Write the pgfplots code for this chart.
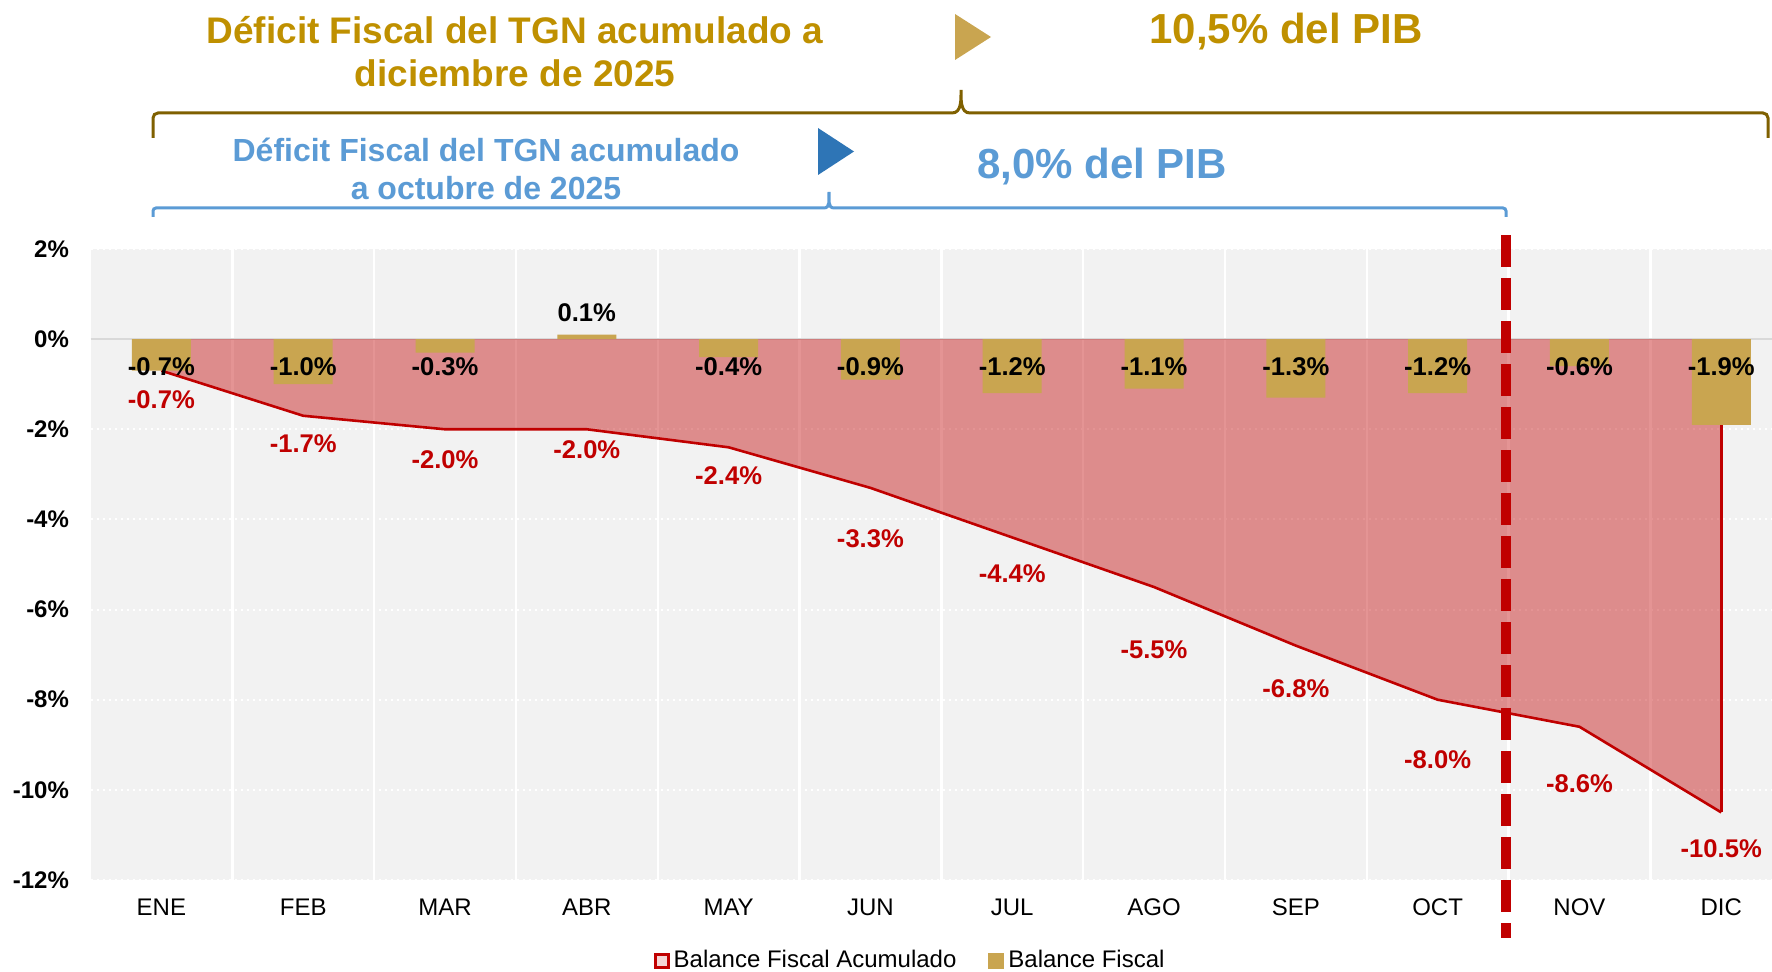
\documentclass[border=0pt]{standalone}
\usepackage{fontspec}
\setmainfont{Liberation Sans}
\usepackage{pgfplots}
\pgfplotsset{compat=1.18}
\usepackage{pgfplotstable}
\definecolor{cred}{HTML}{C00000}
\definecolor{cgoldbar}{HTML}{C9A550}
\definecolor{cgoldtxt}{HTML}{BF9000}
\definecolor{cgoldbr}{HTML}{7F6000}
\definecolor{cblue}{HTML}{5B9BD5}
\definecolor{cbluetri}{HTML}{2E75B6}
\definecolor{cbg}{HTML}{F2F2F2}
\definecolor{cpink}{HTML}{E59A9A}

\pgfplotstableread{
x  bf   acum  bly    laby
0  -0.7 -0.7  -0.621 -1.35
1  -1.0 -1.7  -0.621 -2.33
2  -0.3 -2.0  -0.621 -2.68
3   0.1 -2.0   0.577 -2.46
4  -0.4 -2.4  -0.621 -3.02
5  -0.9 -3.3  -0.621 -4.43
6  -1.2 -4.4  -0.621 -5.21
7  -1.1 -5.5  -0.621 -6.90
8  -1.3 -6.8  -0.621 -7.76
9  -1.2 -8.0  -0.621 -9.33
10 -0.6 -8.6  -0.621 -9.87
11 -1.9 -10.5 -0.621 -11.31
}\data

\begin{document}
\begin{tikzpicture}
\useasboundingbox (0,0) rectangle (886pt,-486pt);
\begin{axis}[
  scale only axis, width=840.75pt, height=315.5pt,
  at={(45.25pt,-440pt)}, anchor=south west,
  xmin=-0.5, xmax=11.358, ymin=-12, ymax=2,
  clip=false,
  axis background/.style={fill=cbg},
  axis line style={draw=none},
  major tick length=0pt, minor tick length=0pt,
  xtick={0,...,11},
  xticklabels={ENE,FEB,MAR,ABR,MAY,JUN,JUL,AGO,SEP,OCT,NOV,DIC},
  minor xtick={0.5,1.5,...,10.5},
  xminorgrids, minor x grid style={white, line width=1.2pt},
  ytick={-12,-10,...,2},
  yticklabels={-12\%,-10\%,-8\%,-6\%,-4\%,-2\%,0\%,2\%},
  ymajorgrids, major y grid style={white, line width=1pt, dotted},
  x tick label style={font=\fontsize{12}{14}\selectfont},
  y tick label style={font=\fontsize{12}{14}\selectfont\bfseries},
  xticklabel shift=6pt, yticklabel shift=7.25pt,
  legend style={draw=none, fill=none, font=\fontsize{12}{14}\selectfont,
    legend columns=-1, at={(0.488,-0.127)}, anchor=center,
    /tikz/every even column/.append style={column sep=14pt}},
]
\draw[color=black!15, line width=1pt] (axis cs:-0.5,0) -- (axis cs:11.358,0);
% accumulated area
\addplot[draw=none, fill=cred, fill opacity=0.42,
  legend image code/.code={\draw[draw=cred, line width=1.5pt, fill=cpink] (0.75pt,-3.5pt) rectangle (7.25pt,3pt);}]
  table[x=x, y=acum] {\data} \closedcycle;
\addlegendentry{Balance Fiscal Acumulado}
\addplot[cred, line width=1.3pt, mark=none, forget plot] table[x=x, y=acum] {\data};
\addplot[cred, line width=1.3pt, mark=none, forget plot] coordinates {(11,-10.5) (11,0)};
% bars
\addplot[ybar, bar width=29.5pt, bar shift=0pt, fill=cgoldbar, draw=none,
  legend image code/.code={\fill[cgoldbar] (0pt,-4.25pt) rectangle (8pt,3.75pt);}]
  table[x=x, y=bf] {\data};
\addlegendentry{Balance Fiscal}
% dashed separator
\addplot[cred, line width=5pt, dash pattern=on 16pt off 5.5pt, forget plot] coordinates {(9.48,2.307) (9.48,-13.29)};
% bar labels
\addplot[draw=none, mark=none, forget plot, point meta=explicit,
  nodes near coords={\pgfmathprintnumber[fixed,fixed zerofill,precision=1,assume math mode=true]{\pgfplotspointmeta}\%},
  every node near coord/.append style={anchor=center, inner sep=0pt, text=black, font=\fontsize{12.8}{14}\selectfont\bfseries}]
  table[x=x, y=bly, meta=bf] {\data};
% accumulated labels
\addplot[draw=none, mark=none, forget plot, point meta=explicit,
  nodes near coords={\pgfmathprintnumber[fixed,fixed zerofill,precision=1,assume math mode=true]{\pgfplotspointmeta}\%},
  every node near coord/.append style={anchor=center, inner sep=0pt, text=cred, font=\fontsize{12.8}{14}\selectfont\bfseries}]
  table[x=x, y=laby, meta=acum] {\data};
\end{axis}
% annotations
\draw[cgoldbr, line width=1.5pt] (76.5pt,-69pt) -- (76.5pt,-59pt) to[out=90,in=180] (79pt,-56.5pt) -- (476pt,-56.5pt) to[out=0,in=-90] (480.5pt,-45pt) to[out=-90,in=180] (485pt,-56.5pt) -- (881.5pt,-56.5pt) to[out=0,in=90] (884pt,-59pt) -- (884pt,-69pt);
\draw[cblue, line width=1.5pt] (76.5pt,-108.5pt) -- (76.5pt,-105.5pt) to[out=90,in=180] (78pt,-104pt) -- (412pt,-104pt) to[out=0,in=-90] (414.5pt,-96pt) to[out=-90,in=180] (417pt,-104pt) -- (751.5pt,-104pt) to[out=0,in=90] (753pt,-105.5pt) -- (753pt,-108.5pt);
\fill[cgoldbar] (477.5pt,-7pt) -- (477.5pt,-30pt) -- (495.5pt,-18.5pt) -- cycle;
\fill[cbluetri] (409pt,-64pt) -- (409pt,-87.5pt) -- (427pt,-75.75pt) -- cycle;
\node[align=center, text=cgoldtxt, font=\fontsize{18.5}{21.5}\selectfont\bfseries, inner sep=0pt] at (257.5pt,-25.75pt) {Déficit Fiscal del TGN acumulado a\\diciembre de 2025};
\node[align=center, text=cblue, font=\fontsize{16}{19}\selectfont\bfseries, inner sep=0pt] at (243pt,-84.5pt) {Déficit Fiscal del TGN acumulado\\a octubre de 2025};
\node[text=cgoldtxt, font=\fontsize{21}{24}\selectfont\bfseries, inner sep=0pt] at (643pt,-16pt) {10,5\% del PIB};
\node[text=cblue, font=\fontsize{21}{24}\selectfont\bfseries, inner sep=0pt] at (551pt,-83.5pt) {8,0\% del PIB};
\end{tikzpicture}
\end{document}
